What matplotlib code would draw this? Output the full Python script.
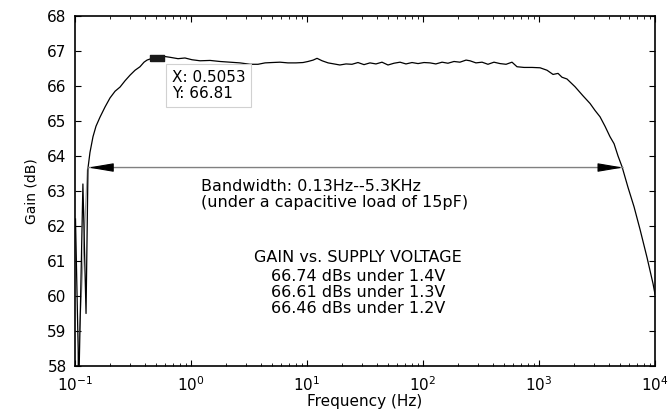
import numpy as np
import matplotlib
matplotlib.use('Agg')
import matplotlib.pyplot as plt

plt.rcParams['font.family'] = ['DejaVu Sans']

# measured gain curve (Hz, dB)
freq = [0.101, 0.108, 0.117, 0.1245, 0.1294,
        0.1346, 0.1429, 0.1517, 0.1643, 0.1815, 0.2005, 0.2215, 0.2446, 0.2701,
        0.2983, 0.3294, 0.3634, 0.3935, 0.4178, 0.4519, 0.5053,
        0.574, 0.659, 0.773, 0.887, 1.02, 1.197, 1.46, 1.778, 2.17, 2.64, 3.23,
        3.78, 4.35, 4.99, 5.85, 6.85, 8.03, 9.24, 10.2, 11.3, 12.2, 13.5, 15.2,
        17.1, 19.2, 21.7, 24.4, 27.5, 31.0, 34.9, 39.3, 44.3, 49.9, 56.2, 63.4,
        71.3, 80.4, 90.6, 102, 115, 129, 146, 164, 185, 208, 235, 254, 286, 323,
        363, 409, 461, 520, 585, 646, 743, 871, 1021, 1172, 1321, 1459, 1578,
        1742, 2042, 2393, 2754, 3041, 3357, 3706, 4093, 4437, 4799, 5200, 5853,
        6592, 7430, 8531, 9616, 10000]
gain = [62.2, 57.5, 63.2, 59.5, 63.65,
        64.1, 64.55, 64.85, 65.11, 65.4, 65.66, 65.85, 65.97, 66.15,
        66.31, 66.45, 66.55, 66.68, 66.74, 66.78, 66.81,
        66.85, 66.82, 66.78, 66.8, 66.75, 66.72, 66.73, 66.7, 66.68, 66.66, 66.62,
        66.62, 66.66, 66.67, 66.68, 66.66, 66.66, 66.67, 66.7, 66.74, 66.79, 66.72, 66.66,
        66.63, 66.6, 66.63, 66.62, 66.67, 66.61, 66.66, 66.63, 66.68, 66.6, 66.65, 66.68,
        66.63, 66.67, 66.64, 66.67, 66.66, 66.63, 66.68, 66.65, 66.7, 66.68, 66.74, 66.72, 66.66, 66.68,
        66.62, 66.68, 66.64, 66.62, 66.68, 66.55, 66.53, 66.53, 66.52, 66.45, 66.33, 66.36, 66.25,
        66.2, 65.98, 65.72, 65.5, 65.3, 65.12, 64.85, 64.55, 64.35, 64.0, 63.69, 63.1,
        62.55, 61.9, 61.1, 60.35, 60.05]

# faint second trace at the low end
freq_grey = [0.104, 0.128]
gain_grey = [57.5, 63.6]

tip_f, tip_g = 0.5053, 66.81
bw_lo, bw_hi, bw_level = 0.13, 5300, 63.67

fig = plt.figure(figsize=(6.69, 4.12), dpi=100)
ax = fig.add_axes([0.1121, 0.1117, 0.867, 0.8495])

ax.plot(freq_grey, gain_grey, color='0.6', lw=0.9)
ax.plot(freq, gain, color='k', lw=0.9)

ax.set_xscale('log')
ax.set_xlim(0.1, 1e4)
ax.set_ylim(58, 68)
ax.set_yticks(range(58, 69))

ax.tick_params(which='both', direction='in', top=True, right=True, labelsize=11)
ax.tick_params(which='major', length=4, width=0.8)
ax.tick_params(which='minor', length=2.5, width=0.6)
ax.tick_params(axis='y', pad=6)
ax.tick_params(axis='x', pad=7)
for s in ax.spines.values():
    s.set_linewidth(1.2)

ax.set_xlabel('Frequency (Hz)', fontsize=11, labelpad=0)
ax.set_ylabel('Gain (dB)', fontsize=10, labelpad=6)

# bandwidth arrow: grey shaft, black heads
ax.annotate('', xy=(bw_lo, bw_level), xytext=(bw_hi, bw_level),
            arrowprops=dict(arrowstyle='-', color='0.5', lw=1.0, shrinkA=0, shrinkB=0))
for f, dx in [(bw_lo, 24), (bw_hi, -24)]:
    ax.annotate('', xy=(f, bw_level), xytext=(dx, 0), textcoords='offset pixels',
                arrowprops=dict(arrowstyle='-|>,head_length=1.3,head_width=0.22',
                                color='k', lw=0.8, shrinkA=0, shrinkB=0, mutation_scale=12))

# data tip
marker_rect = [(-1, -0.5), (1, -0.5), (1, 0.5), (-1, 0.5), (-1, -0.5)]
ax.plot([tip_f], [tip_g], marker=marker_rect, markersize=10, color='#1a1a1a', zorder=5)
ax.annotate('X: 0.5053\nY: 66.81', xy=(tip_f, tip_g), xytext=(15, -12),
            textcoords='offset pixels', ha='left', va='top', fontsize=11,
            linespacing=1.15, zorder=6,
            bbox=dict(boxstyle='square,pad=0.35', fc='white', ec='0.82', lw=0.8))

ax.text(0.218, 0.514, 'Bandwidth: 0.13Hz--5.3KHz', transform=ax.transAxes,
        fontsize=11.5, ha='left', va='center')
ax.text(0.218, 0.466, '(under a capacitive load of 15pF)', transform=ax.transAxes,
        fontsize=11.5, ha='left', va='center')

lines = ['GAIN vs. SUPPLY VOLTAGE', '66.74 dBs under 1.4V',
         '66.61 dBs under 1.3V', '66.46 dBs under 1.2V']
for txt, y in zip(lines, [0.309, 0.257, 0.211, 0.163]):
    ax.text(0.488, y, txt, transform=ax.transAxes, fontsize=11.5, ha='center', va='center')

fig.savefig('out.png', dpi=100)
